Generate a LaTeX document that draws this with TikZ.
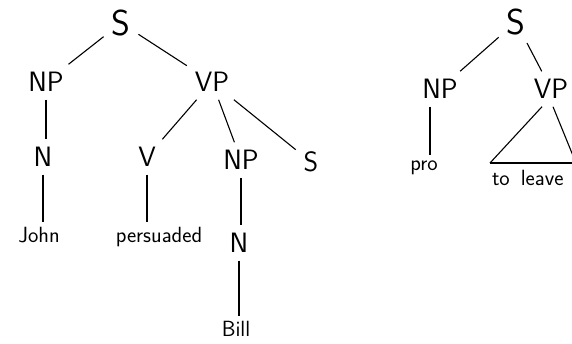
\documentclass[tikz,border=0pt]{standalone}
\usetikzlibrary{positioning}

\begin{document}
\begin{tikzpicture}[x=1pt,y=-1pt,line width=1.1pt,
    cat/.style={font=\sffamily\fontsize{28}{28}\selectfont, inner sep=0pt, outer sep=8pt},
    topcat/.style={cat, font=\sffamily\fontsize{36}{36}\selectfont},
    word/.style={font=\sffamily\fontsize{22}{22}\selectfont, inner sep=0pt, outer sep=5pt, anchor=base}]
\useasboundingbox (0,0) rectangle (572,343);
\clip (0,0) rectangle (572,343);
% John persuaded Bill S
\node[topcat] (S) at (121,23) {S};
\node[cat] (NP) at (46,82) {NP};
\node[cat] (VP) at (212,82) {VP};
\node[cat] (N) at (43,157) {N};
\node[word] (John) at (39,242) {John};
\node[cat] (V) at (147,157) {V};
\node[word] (persuaded) at (159,242) {persuaded};
\node[cat] (NP2) at (241,160) {NP};
\node[cat] (N2) at (239,243) {N};
\node[word] (Bill) at (236,336) {Bill};
\node[cat] (S2) at (311,162) {S};
\draw (S) -- (NP);
\draw (S) -- (VP);
\draw (NP) -- (NP |- N.north);
\draw (N) -- (N |- John.north);
\draw (VP) -- (V);
\draw (V) -- (V |- persuaded.north);
\draw (VP) -- (NP2);
\draw (NP2) -- (NP2 |- N2.north);
\draw (N2) -- (N2 |- Bill.north);
\draw (VP) -- (S2);
% pro to leave
\node[topcat] (Sinf) at (516,22) {S};
\node[cat] (NPpro) at (440,89) {NP};
\node[cat] (VPinf) at (551,89) {VP};
\node[word] (pro) at (424,170) {pro};
\node[word, anchor=base west] (toleave) at (487,185) {to\hspace{0.5em}leave};
\coordinate (triL) at (490,163);
\coordinate (triR) at (576,163);
\draw (Sinf) -- (NPpro);
\draw (Sinf) -- (VPinf);
\draw ([xshift=-10pt]NPpro.south) -- ([xshift=-10pt]NPpro.south |- pro.north);
\draw (triL) -- ([xshift=-9pt]VPinf.south);
\draw ([xshift=2pt]VPinf.south) -- (triR);
\draw (triL) -- (triR);
\end{tikzpicture}
\end{document}
